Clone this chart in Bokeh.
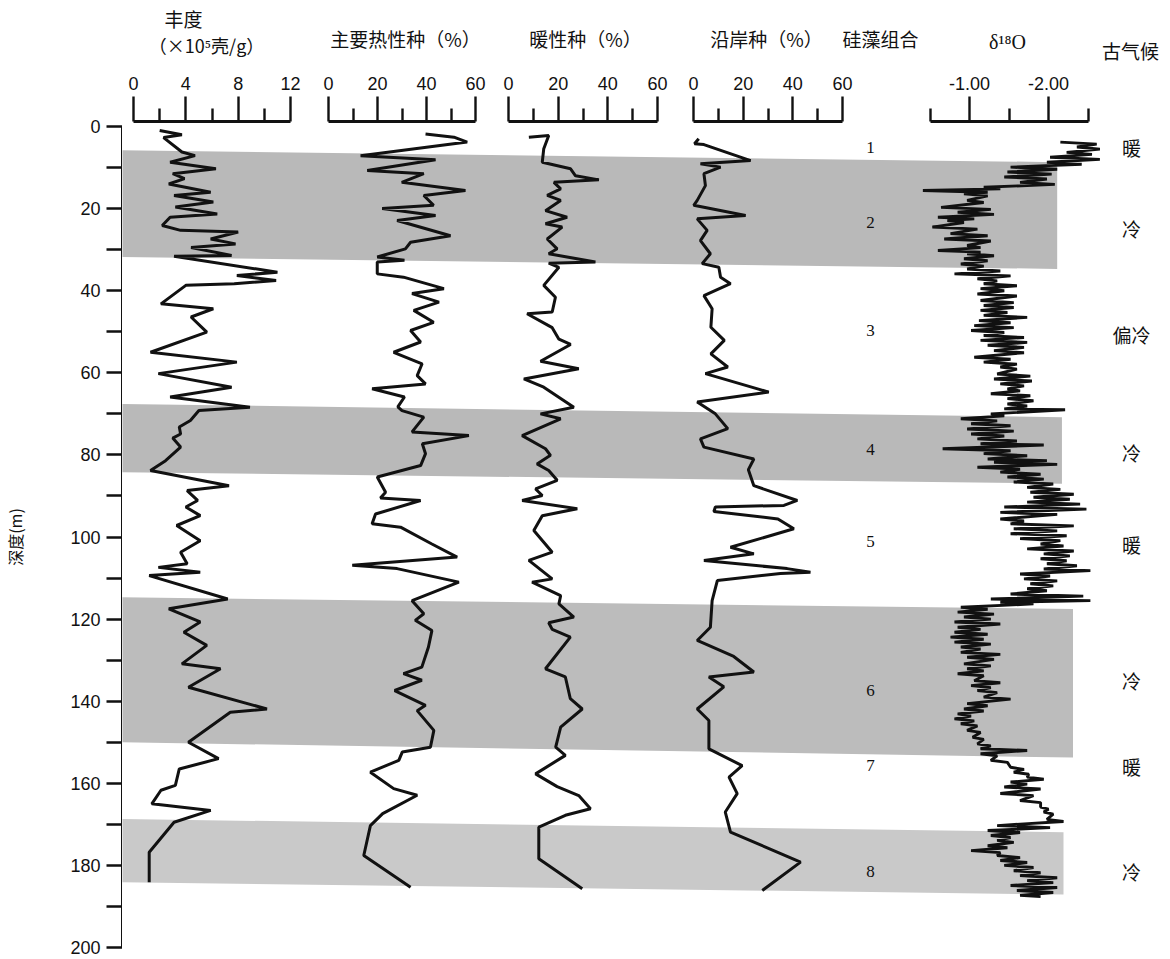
from bokeh.plotting import figure
from bokeh.layouts import row, column
from bokeh.models import Range1d, FixedTicker, NumeralTickFormatter
from bokeh.core.properties import value
from bokeh.embed import file_html
from bokeh.resources import INLINE

# ---------------- data (depth in m, value) ----------------
abund_depth = [0.97, 2.0, 2.7, 6.2, 7.1, 8.7, 10.3, 11.5, 12.7, 14.0, 16.0, 16.8, 18.4, 19.6, 21.3, 22.1,
               24.1, 25.3, 25.7, 27.4, 28.6, 29.5, 31.4, 31.6, 35.5, 36.3, 37.5, 38.3, 38.7, 43.2, 44.4,
               46.4, 50.1, 55.0, 57.4, 60.2, 63.5, 65.9, 68.4, 69.2, 71.6, 73.2, 74.9, 75.9, 78.1, 81.4,
               83.8, 87.5, 88.7, 91.1, 92.7, 94.8, 97.2, 100.9, 103.7, 106.5, 107.4, 108.6, 109.4, 115.1,
               117.5, 120.7, 123.2, 126.4, 130.9, 132.1, 136.6, 141.9, 142.7, 150.0, 154.0, 156.5, 160.5,
               161.7, 165.0, 166.6, 169.5, 176.8, 184.1]
abund_val = [2.0, 3.7, 2.3, 3.7, 4.7, 2.8, 6.3, 3.0, 3.9, 2.7, 5.9, 3.1, 6.1, 3.2, 6.4, 2.8,
             2.2, 3.6, 8.0, 5.9, 7.8, 4.4, 7.5, 3.1, 11.0, 7.9, 10.9, 7.7, 4.0, 2.1, 6.1,
             4.4, 5.6, 1.3, 7.9, 1.9, 7.5, 2.8, 8.9, 5.0, 4.35, 3.5, 3.6, 3.0, 3.6, 2.45,
             1.3, 7.3, 4.1, 4.9, 4.0, 5.1, 3.3, 5.1, 3.6, 4.1, 1.9, 5.1, 1.2, 7.2,
             2.7, 5.1, 3.85, 5.6, 3.7, 6.65, 4.2, 10.2, 7.4, 4.2, 6.5, 3.5, 3.2,
             2.1, 1.4, 5.9, 3.1, 1.2, 1.2]

heat_depth = [1.8, 2.6, 3.8, 7.1, 8.1, 10.7, 11.5, 13.6, 15.6, 16.8, 19.2, 20.0, 21.7, 22.9, 26.6, 28.2,
              29.8, 31.8, 32.6, 33.0, 35.9, 36.7, 39.5, 40.7, 42.8, 44.8, 47.7, 49.7, 52.5, 55.0, 57.8,
              60.7, 62.7, 63.9, 65.9, 68.3, 69.2, 70.8, 74.4, 75.3, 77.3, 79.7, 82.6, 85.4, 89.1, 90.5,
              91.1, 94.4, 96.8, 97.6, 101.7, 104.9, 106.9, 107.7, 111.0, 115.5, 118.7, 120.3, 122.8,
              126.8, 131.7, 133.3, 134.9, 137.4, 141.0, 142.3, 147.1, 151.2, 152.4, 154.4, 157.3, 161.3,
              162.9, 167.4, 170.3, 177.6, 185.3]
heat_val = [39.6, 51.2, 56.6, 13.1, 43.7, 15.8, 38.9, 29.9, 55.9, 38.9, 42.9, 21.9, 43.7, 28.0, 49.8, 33.5,
            31.4, 19.9, 31.0, 19.9, 19.9, 30.6, 47.1, 34.1, 45.1, 34.8, 42.9, 33.5, 37.6, 26.6, 38.2,
            36.2, 39.6, 17.8, 31.0, 28.3, 30.0, 38.9, 34.1, 57.3, 38.3, 39.6, 37.6, 19.9, 23.3, 21.2,
            37.6, 19.2, 17.8, 29.4, 42.2, 52.5, 9.7, 28.0, 53.2, 34.1, 38.9, 35.4, 42.2,
            40.8, 38.1, 30.6, 38.1, 27.0, 39.6, 36.2, 43.0, 41.6, 30.1, 28.7, 17.1, 26.6,
            36.2, 22.1, 17.1, 14.4, 33.5]

warm_depth = [2.6, 2.2, 5.4, 8.7, 10.3, 12.0, 13.0, 13.6, 15.2, 16.8, 18.0, 20.5, 22.1, 23.7, 24.5, 27.4,
              29.8, 31.0, 33.0, 33.3, 34.3, 38.7, 41.6, 45.2, 45.6, 49.0, 51.8, 53.1, 57.2, 59.0, 61.5,
              63.5, 68.4, 70.0, 71.2, 75.3, 78.5, 80.1, 82.2, 83.8, 86.2, 88.3, 89.9, 91.1, 93.1, 94.8,
              98.4, 103.7, 105.7, 110.2, 111.0, 114.3, 116.3, 119.5, 120.9, 122.5, 124.4, 132.1, 134.1,
              139.4, 141.9, 146.3, 151.2, 153.2, 157.7, 160.8, 163.0, 166.2, 167.8, 170.7, 178.4, 185.7]
warm_val = [8.2, 16.2, 14.2, 13.6, 25.0, 27.0, 36.4, 18.3, 21.0, 15.6, 21.0, 14.9, 23.6, 14.9, 21.6, 15.6,
            19.6, 16.2, 35.0, 16.2, 20.3, 14.2, 18.9, 17.6, 7.5, 17.6, 20.3, 25.0, 12.9, 28.3, 6.2,
            14.2, 26.3, 12.9, 21.0, 5.5, 14.9, 16.9, 11.5, 16.2, 19.6, 10.9, 13.6, 5.5, 27.7, 13.6,
            10.2, 17.6, 8.2, 17.6, 9.5, 21.0, 20.3, 26.3, 16.2, 17.6, 24.9, 14.9, 22.9,
            24.9, 29.7, 21.0, 19.0, 22.9, 10.9, 19.6, 28.3, 33.0, 22.9, 12.2, 12.2, 29.7]

coast_depth = [3.0, 4.2, 4.4, 8.3, 9.1, 9.9, 11.5, 14.4, 18.0, 19.2, 21.7, 22.5, 25.3, 27.8, 31.0, 33.4,
               34.3, 36.7, 38.3, 41.2, 44.4, 48.9, 52.1, 55.4, 58.6, 60.2, 64.7, 67.1, 70.0, 73.6, 76.1,
               78.1, 81.0, 83.6, 87.5, 91.1, 92.3, 92.7, 93.8, 95.6, 98.0, 102.5, 104.1, 105.7, 107.7,
               108.6, 108.9, 110.6, 115.5, 122.0, 125.2, 129.1, 132.9, 134.1, 136.5, 141.9, 144.7, 151.6,
               155.7, 158.5, 162.5, 167.0, 171.9, 179.2, 186.1]
coast_val = [2.1, 0.4, 4.2, 23.0, 2.8, 10.9, 4.2, 4.8, 1.5, 0.1, 21.0, 1.5, 5.5, 2.8, 6.8, 3.5,
             10.2, 10.9, 14.9, 4.2, 7.5, 7.0, 12.4, 7.0, 13.8, 4.8, 30.3, 1.5, 8.8, 13.8, 2.8,
             4.2, 24.3, 22.1, 24.3, 41.8, 36.4, 8.8, 8.2, 34.0, 40.4, 14.9, 24.3, 4.2, 37.7,
             47.1, 35.0, 9.6, 7.5, 6.8, 1.5, 16.2, 24.3, 6.2, 12.2, 1.5, 6.2, 6.2,
             19.6, 14.3, 17.6, 12.8, 14.9, 43.1, 27.7]

o18_depth = [3.8, 4.3, 5.0, 5.5, 6.3, 6.8, 7.5, 8.0, 8.7, 9.2, 9.9, 10.4, 11.1, 11.6, 12.3, 12.8,
             13.6, 14.1, 14.8, 15.2, 15.6, 16.0, 16.4, 16.9, 18.0, 18.5, 19.7, 20.2, 20.9, 21.4,
             22.1, 22.5, 22.9, 23.4, 24.5, 25.0, 26.1, 26.6, 27.4, 27.9, 29.0, 29.5, 30.2, 30.6,
             31.0, 31.5, 32.2, 32.7, 33.5, 34.0, 34.7, 35.2, 35.9, 36.4, 37.1, 37.6, 38.3, 38.8,
             39.5, 40.0, 40.8, 41.3, 42.4, 42.9, 43.6, 44.1, 44.8, 45.3, 46.0, 46.5, 47.3, 47.8,
             48.5, 49.0, 49.7, 50.2, 50.9, 51.4, 52.1, 52.6, 53.3, 53.8, 54.6, 55.1, 56.2, 56.7,
             57.4, 57.9, 58.6, 59.1, 60.3, 60.8, 61.5, 62.0, 62.7, 63.2, 63.9, 64.4, 65.1, 65.6,
             66.3, 66.8, 67.6, 68.1, 68.8, 69.0, 70.0, 70.5, 71.2, 71.7, 72.4, 72.9, 73.7, 74.2,
             74.9, 75.4, 76.1, 76.6, 77.3, 77.6, 78.5, 79.0, 79.7, 80.2, 81.0, 81.4, 81.8, 82.3,
             83.0, 83.5, 84.2, 84.7, 85.4, 85.9, 86.6, 87.1, 87.9, 88.4, 89.1, 89.6, 90.3, 90.8,
             91.5, 92.0, 92.7, 93.2, 94.0, 94.5, 95.6, 96.1, 96.8, 97.3, 98.0, 98.5, 99.2, 99.7,
             100.4, 100.9, 101.7, 102.2, 102.9, 103.4, 104.1, 104.6, 105.3, 105.8, 106.5, 107.0,
             107.8, 108.2, 109.0, 109.5, 110.2, 110.7, 111.4, 111.9, 112.6, 113.1, 113.9, 114.4,
             115.1, 115.5, 115.9, 116.3, 117.1, 117.6, 118.3, 118.8, 119.5, 120.0, 120.7, 121.2,
             122.0, 122.5, 123.2, 123.7, 124.4, 124.9, 125.6, 126.1, 126.8, 127.3, 128.1, 128.6,
             129.3, 129.8, 130.9, 131.4, 132.1, 132.6, 133.3, 133.8, 135.0, 135.5, 136.2, 136.7,
             137.4, 137.9, 139.0, 139.5, 140.6, 141.1, 141.9, 142.4, 143.1, 143.6, 144.3, 144.8,
             145.5, 146.0, 147.1, 147.6, 148.8, 149.3, 150.4, 150.9, 151.6, 152.0, 152.8, 153.3,
             154.4, 154.9, 156.1, 156.6, 157.3, 157.8, 158.5, 159.0, 159.7, 160.2, 160.9, 161.4,
             162.5, 163.0, 164.2, 164.7, 165.8, 166.3, 167.0, 167.5, 168.8, 169.3, 170.3, 170.8,
             171.5, 172.0, 172.7, 173.2, 173.9, 174.4, 175.2, 175.7, 176.4, 176.9, 177.6, 178.1,
             178.8, 179.3, 180.0, 180.5, 181.3, 181.8, 182.5, 183.0, 183.7, 184.2, 184.9, 185.4,
             186.1, 186.6, 187.3, 187.6]
o18_val = [-2.15, -2.61, -2.36, -2.65, -2.23, -2.55, -2.02, -2.65, -1.98, -2.42, -1.52, -2.11, -1.48, -2.04,
           -1.44, -1.98, -1.64, -2.08, -1.18, -1.39, -0.41, -1.23, -0.93, -1.23, -0.97, -1.18, -0.64, -1.27,
           -0.85, -1.31, -0.60, -1.06, -0.72, -0.93, -0.53, -1.10, -0.76, -1.23, -0.68, -1.27, -0.97, -1.14,
           -0.60, -1.14, -0.97, -1.31, -0.93, -1.23, -0.89, -1.18, -0.97, -1.39, -0.81, -1.52, -1.10, -1.35,
           -1.18, -1.60, -1.14, -1.44, -1.10, -1.60, -1.14, -1.56, -1.18, -1.56, -1.14, -1.48, -1.18, -1.73,
           -1.12, -1.52, -1.06, -1.56, -1.02, -1.44, -1.18, -1.69, -1.14, -1.73, -1.23, -1.69, -1.31, -1.69,
           -1.06, -1.52, -1.18, -1.60, -1.39, -1.60, -1.35, -1.77, -1.31, -1.79, -1.39, -1.69, -1.48, -1.64,
           -1.27, -1.77, -1.48, -1.81, -1.48, -1.73, -1.44, -2.21, -1.27, -1.44, -0.89, -1.35, -1.02, -1.52,
           -0.97, -1.56, -1.02, -1.44, -1.10, -1.60, -1.14, -1.94, -0.66, -1.52, -1.18, -1.73, -1.23, -1.98,
           -1.31, -2.11, -1.10, -1.64, -1.39, -1.90, -1.48, -1.94, -1.56, -2.06, -1.73, -2.15, -1.77, -2.32,
           -1.81, -2.27, -1.73, -2.40, -1.44, -2.48, -1.39, -2.11, -1.39, -1.69, -1.52, -2.32, -1.56, -2.11,
           -1.52, -2.23, -1.64, -2.15, -1.90, -2.19, -1.73, -2.32, -1.94, -2.27, -1.90, -2.23, -1.98, -2.36,
           -1.94, -2.53, -1.64, -2.02, -1.69, -2.11, -1.77, -2.06, -1.73, -1.98, -1.52, -2.44, -1.27, -2.53,
           -1.39, -1.81, -0.89, -1.23, -0.85, -1.31, -0.93, -1.27, -0.81, -1.39, -0.85, -1.14, -0.81, -1.23,
           -0.76, -1.18, -0.81, -1.27, -0.89, -1.14, -0.89, -1.39, -0.97, -1.31, -0.93, -1.27, -0.97, -1.18,
           -0.85, -1.18, -1.06, -1.39, -1.02, -1.27, -1.10, -1.35, -1.18, -1.52, -0.97, -1.23, -0.93, -1.18,
           -0.85, -1.02, -0.81, -1.06, -0.89, -1.10, -0.97, -1.14, -1.04, -1.18, -1.10, -1.27, -1.14, -1.73,
           -1.14, -1.35, -1.27, -1.48, -1.52, -1.69, -1.56, -1.75, -1.73, -1.94, -1.52, -1.73, -1.44, -1.90,
           -1.39, -1.81, -1.64, -1.90, -1.90, -2.00, -1.94, -2.06, -1.98, -2.19, -1.35, -2.02, -1.23, -1.64,
           -1.27, -1.52, -1.35, -1.56, -1.23, -1.48, -1.02, -1.39, -1.35, -1.64, -1.39, -1.73, -1.44, -1.81,
           -1.56, -1.90, -1.64, -2.11, -1.73, -2.06, -1.52, -2.11, -1.60, -2.06, -1.64, -1.90]

# shaded intervals (depth at left edge / right edge of the chart)
band_top_left = [5.8, 67.6, 114.7, 168.7]
band_bot_left = [31.8, 84.2, 150.0, 184.1]
band_top_right = [8.7, 70.8, 117.5, 171.9]
band_bot_right = [34.7, 87.0, 153.7, 187.1]
band_end_o18 = [-2.11, -2.17, -2.31, -2.19]
band_colors = ["#b9b9b9", "#b9b9b9", "#bcbcbc", "#c9c9c9"]

group_labels = ["1", "2", "3", "4", "5", "6", "7", "8"]
group_depth = [5.1, 23.4, 49.7, 78.7, 101.1, 137.4, 155.7, 181.5]
climate_labels = ["暖", "冷", "偏冷", "冷", "暖", "冷", "暖", "冷"]
climate_depth = [5.1, 24.8, 50.7, 79.4, 101.8, 135.0, 155.9, 181.5]

header_texts = ["丰度", "（×10⁵壳/g）", "主要热性种（%）", "暖性种（%）", "沿岸种（%）", "硅藻组合", "δ¹⁸O", "古气候"]

depth_ticks = list(range(0, 201, 20))
depth_minor = list(range(10, 200, 20))

# ---------------- geometry (screen px, page top-left origin) ----------------
CJK = "Noto Sans CJK SC"
SANS = "Liberation Sans"
SERIF = "Liberation Serif"
INK = "#111111"
W = 1165
Y0, Y200 = 126.0, 947.0          # screen y of depth 0 and 200
HEAD_H = 64                      # header strip height
AXIS_BOT = 123                   # bottom of the top-axis strip
FRAME_BOT = 950
TOTAL_H = 958
LEFT = 122                       # left edge of the plotting body
BAND_X0, BAND_X1 = 122.0, 1062.0


def d_at(Y):
    return (Y - Y0) * 200.0 / (Y200 - Y0)


y_rng = Range1d(start=d_at(FRAME_BOT), end=d_at(AXIS_BOT))


def make_lin(pa, va, pb, vb):
    def f(px):
        return va + (px - pa) * (vb - va) / (pb - pa)

    def inv(v):
        return pa + (v - va) * (pb - pa) / (vb - va)
    return f, inv


fa, ia = make_lin(133, 0, 290, 12)
fh, ih = make_lin(328, 0, 475, 60)
fw, iw = make_lin(508, 0, 657, 60)
fc, ic = make_lin(693, 0, 842, 60)
fo, io = make_lin(969, -1.0, 1048, -2.0)


def clean(p):
    p.grid.visible = False
    p.outline_line_color = None
    p.background_fill_color = "white"
    p.border_fill_color = "white"


# ---------- main body: one figure, one x-range per column ----------
pm = figure(width=W - LEFT, height=TOTAL_H - AXIS_BOT,
            x_range=Range1d(fa(LEFT), fa(W)), y_range=y_rng,
            x_axis_location=None, y_axis_location=None,
            output_backend="svg", toolbar_location=None,
            min_border=0, min_border_bottom=TOTAL_H - FRAME_BOT)
clean(pm)
pm.extra_x_ranges = {"heat": Range1d(fh(LEFT), fh(W)), "warm": Range1d(fw(LEFT), fw(W)),
                     "coast": Range1d(fc(LEFT), fc(W)), "o18": Range1d(fo(LEFT), fo(W))}

# shaded intervals (slightly tilted as in the scan), drawn on the d18O scale
bxs, bys = [], []
for i in range(len(band_top_left)):
    pxl = LEFT - 4
    pxr = io(band_end_o18[i])

    def interp(a, b, px):
        return a + (b - a) * (px - BAND_X0) / (BAND_X1 - BAND_X0)
    bxs.append([fo(pxl), band_end_o18[i], band_end_o18[i], fo(pxl)])
    bys.append([interp(band_top_left[i], band_top_right[i], pxl),
                interp(band_top_left[i], band_top_right[i], pxr),
                interp(band_bot_left[i], band_bot_right[i], pxr),
                interp(band_bot_left[i], band_bot_right[i], pxl)])
pm.patches(xs=bxs, ys=bys, fill_color=band_colors, line_color=None, x_range_name="o18")

pm.line(abund_val, abund_depth, line_width=3, line_color=INK)
pm.line(heat_val, heat_depth, line_width=3, line_color=INK, x_range_name="heat")
pm.line(warm_val, warm_depth, line_width=3, line_color=INK, x_range_name="warm")
pm.line(coast_val, coast_depth, line_width=3, line_color=INK, x_range_name="coast")
pm.line(o18_val, o18_depth, line_width=2.9, line_color=INK, x_range_name="o18")
pm.text(x=[fc(870)] * len(group_labels), y=group_depth, text=group_labels, x_range_name="coast",
        text_font=value(SERIF), text_font_size="17px", text_color=INK,
        text_align="center", text_baseline="middle")
pm.text(x=[fo(1131)] * len(climate_labels), y=climate_depth, text=climate_labels, x_range_name="o18",
        text_font=value(CJK), text_font_size="19px", text_color=INK,
        text_align="center", text_baseline="middle")

# ---------- depth axis ----------
py = figure(width=LEFT, height=TOTAL_H - HEAD_H, x_range=Range1d(0, 1), y_range=y_rng,
            x_axis_location=None, y_axis_location="left",
            output_backend="svg", toolbar_location=None,
            min_border=0, min_border_left=LEFT - 2, min_border_top=AXIS_BOT - HEAD_H,
            min_border_bottom=TOTAL_H - FRAME_BOT)
clean(py)
ya = py.yaxis[0]
ya.ticker = FixedTicker(ticks=depth_ticks, minor_ticks=depth_minor)
ya.bounds = (0, 200)
ya.axis_line_width = 3
ya.axis_line_color = INK
ya.major_tick_out = 16
ya.minor_tick_out = 16
ya.major_tick_in = 0
ya.minor_tick_in = 0
ya.major_tick_line_width = 2.4
ya.minor_tick_line_width = 2.4
ya.major_tick_line_color = INK
ya.minor_tick_line_color = INK
ya.major_label_text_font = SANS
ya.major_label_text_font_size = "18px"
ya.major_label_text_color = INK
ya.major_label_standoff = 6
ya.axis_label = "深度(m)"
ya.axis_label_text_font = CJK
ya.axis_label_text_font_style = "normal"
ya.axis_label_text_font_size = "16px"
ya.axis_label_text_color = INK
ya.axis_label_standoff = 40


# ---------- top scale bars ----------
def scale_fig(c0, c1, f, ticks, minor, bounds, fmt=None):
    p = figure(width=c1 - c0, height=AXIS_BOT - HEAD_H, x_range=Range1d(f(c0), f(c1)),
               y_range=Range1d(0, 1), x_axis_location="above", y_axis_location=None,
               output_backend="svg", toolbar_location=None,
               min_border=0, min_border_top=AXIS_BOT - HEAD_H - 2)
    clean(p)
    ax = p.xaxis[0]
    ax.ticker = FixedTicker(ticks=ticks, minor_ticks=minor)
    ax.bounds = bounds
    ax.axis_line_width = 3
    ax.axis_line_color = INK
    ax.major_tick_out = 25
    ax.major_tick_in = 0
    ax.minor_tick_out = 13
    ax.minor_tick_in = 0
    ax.major_tick_line_width = 2.4
    ax.minor_tick_line_width = 2.4
    ax.major_tick_line_color = INK
    ax.minor_tick_line_color = INK
    ax.major_label_text_font = SANS
    ax.major_label_text_font_size = "18px"
    ax.major_label_text_color = INK
    ax.major_label_standoff = 7
    if fmt is not None:
        ax.formatter = fmt
    return p


s1 = scale_fig(122, 310, fa, [0, 4, 8, 12], [2, 6, 10], (0, 12))
s2 = scale_fig(310, 490, fh, [0, 20, 40, 60], [10, 30, 50], (0, 60))
s3 = scale_fig(490, 675, fw, [0, 20, 40, 60], [10, 30, 50], (0, 60))
s4 = scale_fig(675, 925, fc, [0, 20, 40, 60], [10, 30, 50], (0, 60))
s5 = scale_fig(925, W, fo, [-1.0, -2.0], [-0.5, -1.5, -2.5], (-2.5, -0.5),
               fmt=NumeralTickFormatter(format="0.00"))

# ---------- header strip ----------
ph = figure(width=W, height=HEAD_H, x_range=Range1d(0, W), y_range=Range1d(HEAD_H, 0),
            output_backend="svg", toolbar_location=None, min_border=0,
            x_axis_location=None, y_axis_location=None)
clean(ph)
head_x = [183, 206, 405, 585, 766, 880, 1007, 1130]
head_y = [18, 44, 38, 38, 38, 38, 41, 50]
head_size = ["19px", "18px", "19px", "19px", "19px", "19px", "20px", "19px"]
head_font = [CJK, CJK, CJK, CJK, CJK, CJK, SERIF, CJK]
for t, x, y, s, fnt in zip(header_texts, head_x, head_y, head_size, head_font):
    ph.text(x=[x], y=[y], text=[t], text_font=value(fnt), text_font_size=s, text_color=INK,
            text_align="center", text_baseline="middle")

layout = column(ph, row(py, column(row(s1, s2, s3, s4, s5), pm)))
open("out.html", "w").write(file_html(layout, INLINE))
